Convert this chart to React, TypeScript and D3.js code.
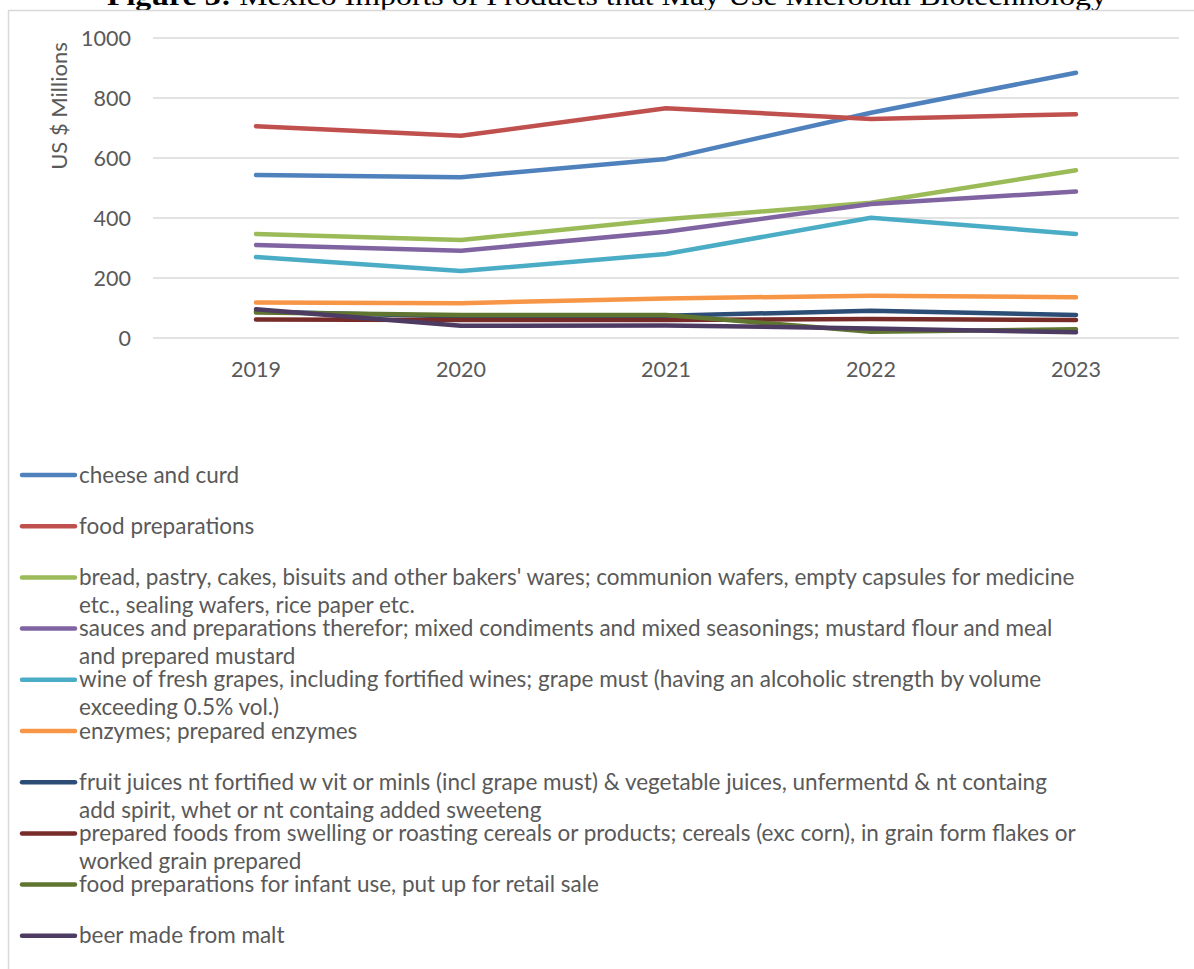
import React from "react";
import * as d3 from "d3";

const years = ["2019", "2020", "2021", "2022", "2023"];
const yTicks = [0, 200, 400, 600, 800, 1000];

const cheese = [543, 536, 597, 751, 884];
const foodPrep = [706, 674, 766, 730, 746];
const bread = [347, 327, 396, 451, 559];
const sauces = [310, 291, 354, 447, 488];
const wine = [270, 223, 280, 401, 347];
const enzymes = [118, 116, 132, 141, 136];
const juices = [88, 72, 74, 91, 77];
const cereals = [62, 60, 60, 63, 60];
const infant = [85, 77, 77, 21, 29];
const beer = [96, 41, 42, 32, 19];

const seriesNames = [
  ["cheese and curd"],
  ["food preparations"],
  ["bread, pastry, cakes, bisuits and other bakers' wares; communion wafers, empty capsules for medicine", "etc., sealing wafers, rice paper etc."],
  ["sauces and preparations therefor; mixed condiments and mixed seasonings; mustard flour and meal", "and prepared mustard"],
  ["wine of fresh grapes, including fortified wines; grape must (having an alcoholic strength by volume", "exceeding 0.5% vol.)"],
  ["enzymes; prepared enzymes"],
  ["fruit juices nt fortified w vit or minls (incl grape must) & vegetable juices, unfermentd & nt containg", "add spirit, whet or nt containg added sweeteng"],
  ["prepared foods from swelling or roasting cereals or products; cereals (exc corn), in grain form flakes or", "worked grain prepared"],
  ["food preparations for infant use, put up for retail sale"],
  ["beer made from malt"],
];
const seriesValues = [cheese, foodPrep, bread, sauces, wine, enzymes, juices, cereals, infant, beer];
const colors = ["#4F81BD", "#C0504D", "#9BBB59", "#8064A2", "#4BACC6", "#F79646", "#2C4D75", "#772C2A", "#5F7530", "#4D3B62"];

const W = 1194;
const H = 969;
const font = "Lato, 'Open Sans', sans-serif";
const textColor = "#595959";

export default function App() {
  const x = d3.scalePoint<string>().domain(years).range([153.5, 1178.5]).padding(0.5);
  const y = d3.scaleLinear().domain([0, 1000]).range([338, 38]);
  const line = d3
    .line<number>()
    .x((_, i) => x(years[i]) as number)
    .y((d) => y(d));

  const legendTop = 475;
  const legendStep = 51.2;

  return (
    <svg
      width={W}
      height={H}
      style={{ position: "absolute", left: 0, top: 0, background: "#fff" }}
      fontFamily={font}
    >
      <rect x={0} y={0} width={W} height={H} fill="#fff" />
      <text x={607} y={5} textAnchor="middle" fontFamily="'Liberation Serif', 'Times New Roman', serif" fontSize={28} fill="#000" textLength={1000} lengthAdjust="spacingAndGlyphs">
        <tspan fontWeight="bold">Figure 3:</tspan>
        <tspan> Mexico Imports of Products that May Use Microbial Biotechnology</tspan>
      </text>
      <rect x={8.5} y={10.5} width={W + 20} height={H + 20} fill="none" stroke="#d9d9d9" strokeWidth={1.5} />

      {yTicks.map((t) => (
        <g key={t}>
          <line x1={153} x2={1179} y1={y(t)} y2={y(t)} stroke="#d9d9d9" strokeWidth={1.5} />
          <text x={131} y={y(t)} dy="0.36em" textAnchor="end" fontSize={21.5} fill={textColor}>
            {t}
          </text>
        </g>
      ))}
      <text
        transform={`translate(67, 106) rotate(-90)`}
        textAnchor="middle"
        fontSize={22}
        fill={textColor}
      >
        US $ Millions
      </text>

      {years.map((yr) => (
        <text key={yr} x={x(yr)} y={377} textAnchor="middle" fontSize={21.5} fill={textColor}>
          {yr}
        </text>
      ))}

      {seriesValues.map((vals, i) => (
        <path
          key={i}
          d={line(vals) || ""}
          fill="none"
          stroke={colors[i]}
          strokeWidth={4.5}
          strokeLinecap="round"
          strokeLinejoin="round"
        />
      ))}

      {seriesNames.map((lines, i) => {
        const cy = legendTop + i * legendStep;
        return (
          <g key={i}>
            <line x1={22} x2={75} y1={cy} y2={cy} stroke={colors[i]} strokeWidth={4.5} strokeLinecap="round" />
            {lines.map((l, j) => (
              <text key={j} x={79} y={cy + 7.5 + j * 28} fontSize={22.5} fill={textColor}>
                {l}
              </text>
            ))}
          </g>
        );
      })}
    </svg>
  );
}
